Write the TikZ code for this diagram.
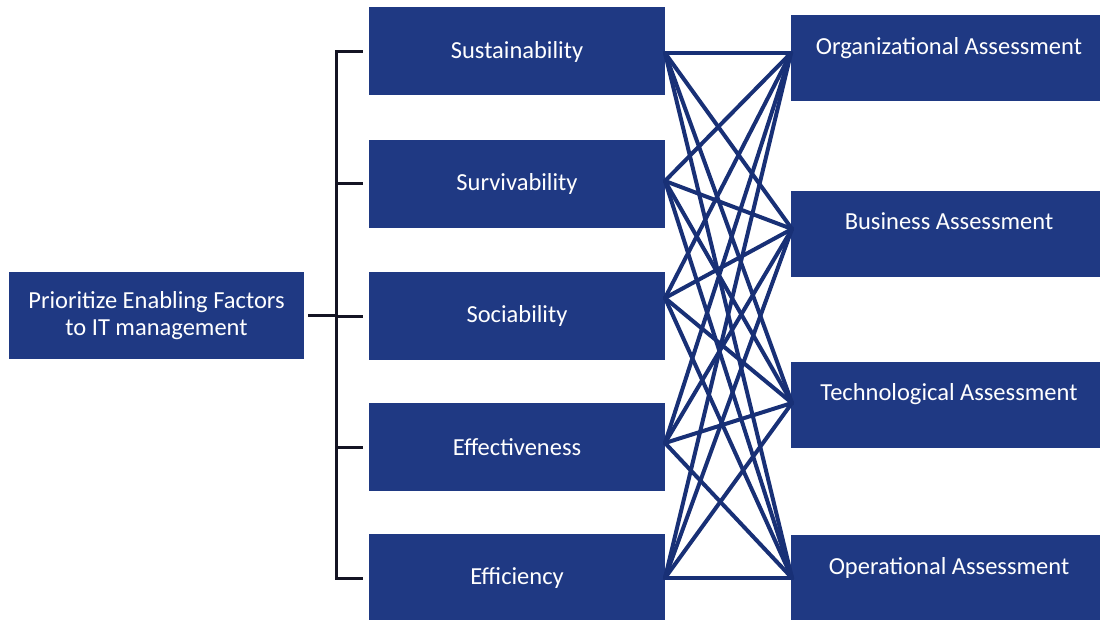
\documentclass[tikz,border=0pt]{standalone}
\usepackage{fontspec}
\setmainfont{Carlito}
\usetikzlibrary{calc}
\definecolor{navy1}{RGB}{31, 57, 131}
\definecolor{navy2}{RGB}{24, 48, 118}
\definecolor{ink1}{RGB}{20, 20, 35}
\tikzset{
  factor/.style={fill=navy1, text=white, minimum width=296pt, minimum height=88pt,
    inner sep=0pt, font=\fontsize{24.5}{27}\selectfont},
  assess/.style={fill=navy1, text=white, minimum width=316pt, inner sep=0pt,
    text height=39pt, text depth=47pt, font=\fontsize{24.5}{27}\selectfont},
  bracket/.style={draw=ink1, line width=3pt},
  link/.style={draw=navy2, line width=4pt, line cap=round}
}

\begin{document}
\begin{tikzpicture}[x=1pt, y=-1pt]
  \useasboundingbox (0,0) rectangle (1100,620);
  \node[factor, minimum width=295pt, minimum height=87pt, align=center] (prio) at (156.5,315.5)
    {Prioritize Enabling Factors\\to IT management};

  \node[factor] (sust) at (517,51.5) {Sustainability};
  \node[factor] (surv) at (517,184) {Survivability};
  \node[factor] (soci) at (517,316) {Sociability};
  \node[factor] (effe) at (517,447) {Effectiveness};
  \node[factor] (effi) at (517,578) {Efficiency};

  \node[assess] (org) at (949,58.5) {Organizational Assessment};
  \node[assess] (bus) at (949,234) {Business Assessment};
  \node[assess] (tec) at (949,404.5) {Technological Assessment};
  \node[assess] (ope) at (949,578) {Operational Assessment};

  % bracket
  \coordinate (spine) at (336,0);
  \draw[bracket] ([xshift=-6pt]sust.west) -| (spine |- effi.west) -- ([xshift=-6pt]effi.west);
  \foreach \n in {surv,soci,effe}
    \draw[bracket] (spine |- \n.west) -- ([xshift=-6pt]\n.west);
  \draw[bracket] ([xshift=4pt]prio.east) -- (spine |- prio.east);

  % meeting points of the links
  \coordinate (sust-o) at (665,53);
  \coordinate (surv-o) at (665,181);
  \coordinate (soci-o) at (665,298);
  \coordinate (effe-o) at (665,443);
  \coordinate (effi-o) at (665,578);
  \coordinate (org-i) at (791,53);
  \coordinate (bus-i) at (792,229);
  \coordinate (tec-i) at (792,403);
  \coordinate (ope-i) at (792,578);

  \foreach \from in {sust-o,surv-o,soci-o,effe-o,effi-o}
    \foreach \to in {org-i,bus-i,tec-i,ope-i}
      \draw[link] (\from) -- (\to);
\end{tikzpicture}
\end{document}
